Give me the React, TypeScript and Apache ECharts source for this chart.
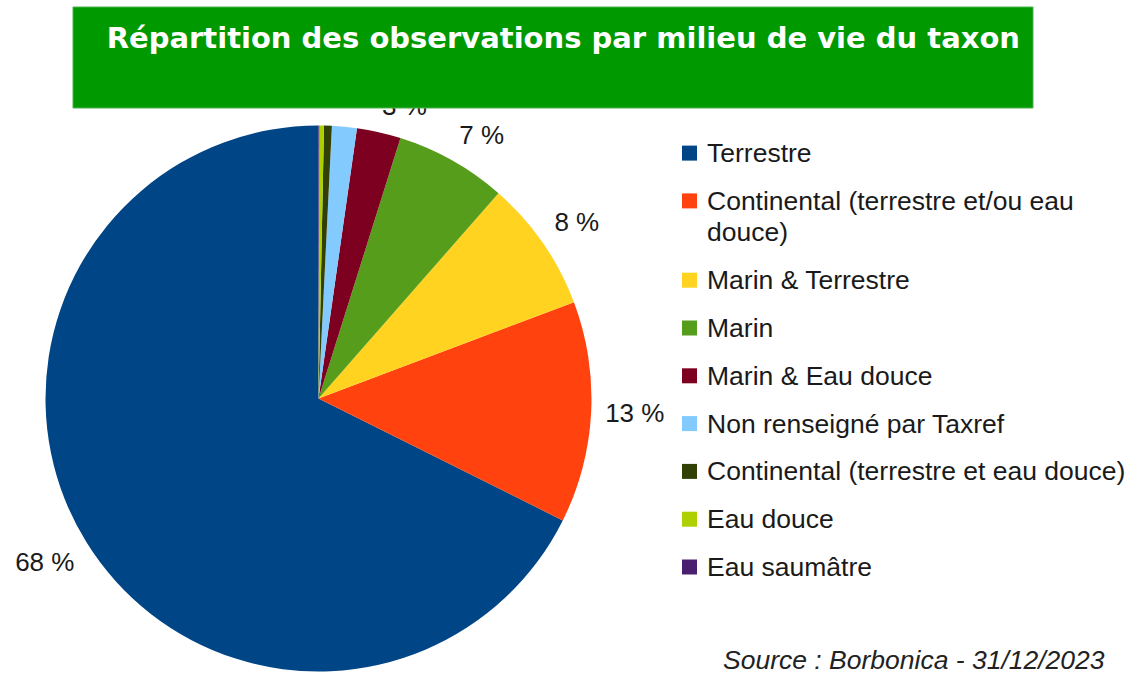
import React, { useEffect, useRef } from "react";
import * as echarts from "echarts";

const TITLE = "Répartition des observations par milieu de vie du taxon";
const SOURCE = "Source : Borbonica - 31/12/2023";

const categories = [
  "Terrestre",
  "Continental (terrestre et/ou eau douce)",
  "Marin & Terrestre",
  "Marin",
  "Marin & Eau douce",
  "Non renseigné par Taxref",
  "Continental (terrestre et eau douce)",
  "Eau douce",
  "Eau saumâtre",
];
// share of observations (%)
const shares = [67.6, 13.1, 7.8, 6.6, 2.6, 1.47, 0.46, 0.27, 0.05];
const colors = [
  "#004586",
  "#ff420e",
  "#ffd320",
  "#579d1c",
  "#7e0021",
  "#83caff",
  "#314004",
  "#aecf00",
  "#4b1f6f",
];
const legendLabels: Record<string, string> = {
  "Continental (terrestre et/ou eau douce)": "Continental (terrestre et/ou eau\ndouce)",
};

const CX = 318.5;
const CY = 398.5;
const RADIUS = 273;
const LABEL_GAP = 14;
const LEGEND_LINE = 31.5;
const LEGEND_FONT = 26.5;

export default function App() {
  const ref = useRef<HTMLDivElement>(null);

  useEffect(() => {
    document.body.style.margin = "0";
    if (!ref.current) return;
    const chart = echarts.init(ref.current, null, { renderer: "svg" });
    const total = shares.reduce((a, b) => a + b, 0);

    chart.setOption({
      animation: false,
      backgroundColor: "#ffffff",
      graphic: [
        {
          type: "rect",
          z: 100,
          shape: { x: 73, y: 7, width: 960, height: 101 },
          style: { fill: "#009900", stroke: "#4db34d", lineWidth: 1 },
        },
        {
          type: "text",
          z: 101,
          x: 106.7,
          y: 37.7,
          style: {
            text: TITLE,
            fill: "#ffffff",
            font: 'bold 29px "DejaVu Sans"',
            align: "left",
            verticalAlign: "middle",
          },
        },
        {
          type: "text",
          z: 101,
          x: 723,
          y: 660,
          style: {
            text: SOURCE,
            fill: "#222222",
            font: 'italic 26.5px "Liberation Sans"',
            align: "left",
            verticalAlign: "middle",
          },
        },
      ],
      legend: {
        orient: "vertical",
        left: 682,
        top: 139.6,
        padding: 0,
        icon: "rect",
        itemWidth: 15,
        itemHeight: 15,
        itemGap: 20.8,
        selectedMode: false,
        textStyle: {
          fontFamily: '"Liberation Sans"',
          fontSize: LEGEND_FONT,
          color: "#1a1a1a",
          padding: [0, 0, 0, 5],
          rich: {
            t: {
              fontFamily: '"Liberation Sans"',
              fontSize: LEGEND_FONT,
              color: "#1a1a1a",
              lineHeight: LEGEND_LINE,
            },
          },
        },
        formatter: (name: string) =>
          (legendLabels[name] || name)
            .split("\n")
            .map((s) => "{t|" + s + "}")
            .join("\n"),
        data: categories.map((name) =>
          legendLabels[name]
            ? { name, textStyle: { padding: [LEGEND_LINE, 0, 0, 5] } }
            : { name }
        ),
      },
      series: [
        {
          type: "pie",
          center: [CX, CY],
          radius: RADIUS,
          startAngle: 90,
          clockwise: false,
          avoidLabelOverlap: false,
          color: colors,
          itemStyle: { borderWidth: 0 },
          emphasis: { disabled: true },
          label: {
            show: true,
            position: "outside",
            fontFamily: '"Liberation Sans"',
            fontSize: 26,
            color: "#1a1a1a",
            formatter: (p: any) => Math.round(p.percent) + " %",
          },
          labelLine: { show: false, length: LABEL_GAP, length2: 0 },
          labelLayout: (params: any) => {
            const i = params.dataIndex;
            let before = 0;
            for (let k = 0; k < i; k++) before += shares[k];
            const mid = before + shares[i] / 2;
            const ang = ((90 + (mid / total) * 360) * Math.PI) / 180;
            const dx = Math.cos(ang);
            const dy = -Math.sin(ang);
            const rr = RADIUS + LABEL_GAP;
            return {
              x: CX + dx * rr,
              y: CY + dy * rr,
              align: dx > 0.15 ? "left" : dx < -0.15 ? "right" : "center",
              verticalAlign: dy < -0.38 ? "bottom" : dy > 0.38 ? "top" : "middle",
            };
          },
          data: categories.map((name, i) => ({
            name,
            value: shares[i],
            label: { show: shares[i] >= 2 },
          })),
        },
      ],
    });

    return () => chart.dispose();
  }, []);

  return <div ref={ref} style={{ width: 1136, height: 674 }} />;
}
